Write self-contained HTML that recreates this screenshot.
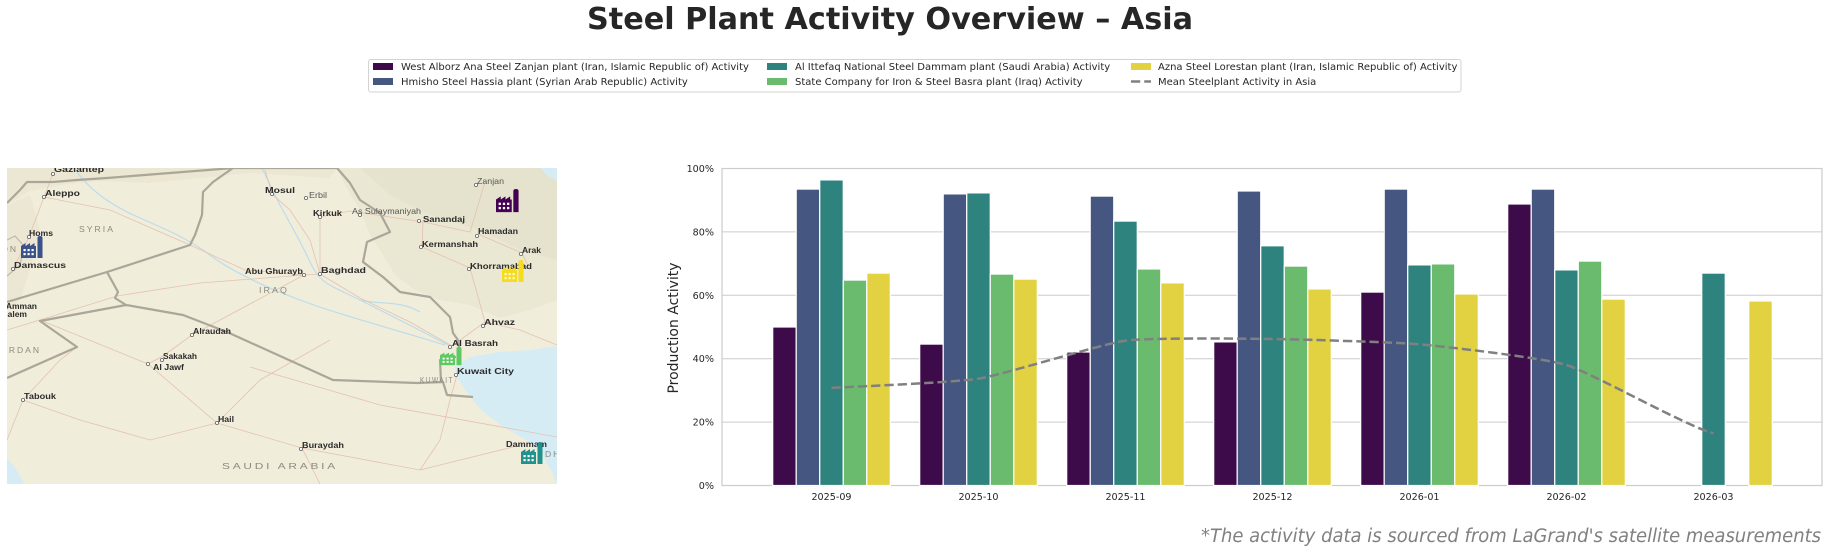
<!DOCTYPE html>
<html><head><meta charset="utf-8"><style>
html,body{margin:0;padding:0;background:#fff;}
svg{display:block;}
.lbl{font-family:"Liberation Sans",Arial,sans-serif;font-weight:bold;font-size:8.5px;fill:#2b2b2b;}
.lbll{font-family:"Liberation Sans",Arial,sans-serif;font-size:8.5px;fill:#555;}
.cty{font-family:"Liberation Sans",Arial,sans-serif;font-size:8.5px;fill:#8c8a80;letter-spacing:2px;}
.dj{font-family:"DejaVu Sans","Liberation Sans",sans-serif;}
</style></head><body>
<svg width="1828" height="554" viewBox="0 0 1828 554" xmlns="http://www.w3.org/2000/svg">
<defs>
<clipPath id="mc"><rect x="7" y="168" width="550" height="316"/></clipPath>
</defs>

<!-- Title -->
<text class="dj" x="587" y="29" font-size="30" font-weight="bold" fill="#262626" textLength="606" lengthAdjust="spacingAndGlyphs">Steel Plant Activity Overview – Asia</text>

<!-- Legend -->
<rect x="368.5" y="59.5" width="1092.5" height="32.5" rx="2.5" fill="#fff" stroke="#d3d3d3" stroke-width="1"/>
<rect x="373" y="63" width="20" height="7" fill="#3e0b4a"/>
<rect x="373" y="78" width="20" height="7" fill="#455681"/>
<rect x="767" y="63" width="20" height="7" fill="#2f837f"/>
<rect x="767" y="78" width="20" height="7" fill="#6bbb6e"/>
<rect x="1131" y="63" width="20" height="7" fill="#e2d140"/>
<line x1="1131" y1="81.5" x2="1151" y2="81.5" stroke="#808080" stroke-width="2.5" stroke-dasharray="9.25 4"/>
<g class="dj" font-size="10" fill="#262626">
<text x="401" y="70">West Alborz Ana Steel Zanjan plant (Iran, Islamic Republic of) Activity</text>
<text x="401" y="85">Hmisho Steel Hassia plant (Syrian Arab Republic) Activity</text>
<text x="795" y="70">Al Ittefaq National Steel Dammam plant (Saudi Arabia) Activity</text>
<text x="795" y="85">State Company for Iron &amp; Steel Basra plant (Iraq) Activity</text>
<text x="1158" y="70">Azna Steel Lorestan plant (Iran, Islamic Republic of) Activity</text>
<text x="1158" y="85">Mean Steelplant Activity in Asia</text>
</g>

<!-- Map -->
<g clip-path="url(#mc)">
<rect x="7" y="168" width="550" height="316" fill="#f1eddb"/>
<!-- terrain shading -->
<polygon points="337,168 557,168 557,300 530,310 500,318 470,305 440,300 415,290 395,275 383,255 370,235 360,210 345,185" fill="#e2dfc6" opacity="0.4"/>
<polygon points="360,168 557,168 557,260 520,250 480,230 430,215 390,195" fill="#dcdcc2" opacity="0.3"/>
<polygon points="7,168 337,168 330,178 250,173 200,178 150,183 100,181 60,185 30,191 7,205" fill="#e4e0c8" opacity="0.45"/>
<polygon points="7,205 30,195 40,230 30,270 20,300 7,310" fill="#e5e1c9" opacity="0.45"/>
<!-- water -->
<polygon points="455,367 470,357 500,352 530,350 557,346 557,484 552,472 542,455 528,441 505,428 482,411 468,394 458,379" fill="#d6ecf5"/>
<polygon points="7,458 14,466 20,476 24,484 7,484" fill="#d6ecf5"/>
<polygon points="540,168 557,168 557,181 548,176" fill="#d6ecf5"/>
<!-- rivers -->
<g fill="none" stroke="#bddcea" stroke-width="1.2">
<path d="M77,172 C90,190 110,205 140,218 S190,240 210,255 S260,285 300,300 S380,325 445,345"/>
<path d="M262,168 C268,180 272,190 280,205 S300,240 310,262 S330,285 360,300 S420,330 448,345"/>
<path d="M360,300 C380,305 400,300 420,312"/>
</g>
<!-- roads -->
<g fill="none" stroke="#e5c1b0" stroke-width="0.8">
<path d="M13,269 L29,237 L44,197 L53,174"/>
<path d="M44,197 L110,210 L190,245 L245,270 L304,275 L320,274"/>
<path d="M304,275 L200,283 L117,296 L40,320 L7,330"/>
<path d="M320,274 L310,240 L290,210 L272,194 L265,170"/>
<path d="M320,274 L360,298 L410,322 L452,346"/>
<path d="M320,217 L320,274"/>
<path d="M320,217 L350,211 L423,222 L470,232 L485,182"/>
<path d="M423,222 L422,247 L470,268 L485,322 L452,346"/>
<path d="M478,234 L522,253 L530,270"/>
<path d="M40,320 L148,364 L163,356 L192,335 L304,275"/>
<path d="M148,364 L217,423 L302,448 L420,470 L521,445"/>
<path d="M23,400 L80,420 L150,440 L217,423"/>
<path d="M217,423 L260,380 L330,340"/>
<path d="M457,375 L450,400 L440,440 L420,470"/>
<path d="M250,367 L380,405 L557,437"/>
<path d="M485,322 L520,330 L557,345"/>
<path d="M7,440 L23,400 L60,360 L77,347"/>
<path d="M302,448 L320,484"/>
</g>
<!-- borders -->
<g fill="none" stroke="#aaa699" stroke-width="2.2" stroke-linejoin="round">
<path d="M7,203 L20,190 L27,182 L53,182 L77,180 L107,178 L170,173 L233,168 L337,168"/>
<path d="M233,168 L213,182 L203,192 L202,215 L195,235 L190,245 L107,272 L7,302"/>
<path d="M107,272 L118,292 L115,298 L126,305 L40,321 L77,347 L7,378"/>
<path d="M126,305 L183,315 L227,332 L333,380 L417,383 L443,382 L447,395 L473,397"/>
<path d="M441,382 L440,360 L456,357"/>
<path d="M337,168 L350,183 L360,200 L380,213 L390,232 L367,242 L363,262 L383,277 L400,292 L430,297 L450,317 L453,333 L458,340 L460,352"/>
</g>
<path d="M7,240 L15,236 L24,246 L20,265 L7,276" fill="none" stroke="#bdb9ad" stroke-width="1.2"/>
<!-- dots -->
<g fill="#fff" stroke="#666" stroke-width="0.8">
<circle cx="53" cy="174" r="1.6"/><circle cx="44" cy="197" r="1.6"/><circle cx="29" cy="237" r="1.6"/>
<circle cx="13" cy="269" r="1.6"/><circle cx="272" cy="194" r="1.6"/><circle cx="306" cy="198" r="1.6"/>
<circle cx="320" cy="217" r="1.6"/><circle cx="360" cy="215" r="1.6"/><circle cx="419" cy="221" r="1.6"/>
<circle cx="304" cy="275" r="1.6"/><circle cx="320" cy="274" r="1.6"/><circle cx="192" cy="335" r="1.6"/>
<circle cx="162" cy="360" r="1.6"/><circle cx="148" cy="364" r="1.6"/><circle cx="23" cy="400" r="1.6"/>
<circle cx="217" cy="423" r="1.6"/><circle cx="421" cy="247" r="1.6"/><circle cx="476" cy="185" r="1.6"/>
<circle cx="477" cy="236" r="1.6"/><circle cx="521" cy="254" r="1.6"/><circle cx="469" cy="269" r="1.6"/>
<circle cx="483" cy="326" r="1.6"/><circle cx="450" cy="347" r="1.6"/><circle cx="456" cy="375" r="1.6"/>
<circle cx="301" cy="449" r="1.6"/>
</g>
<!-- labels -->
<text class="lbl" x="54" y="172" textLength="50" lengthAdjust="spacingAndGlyphs">Gaziantep</text>
<text class="lbl" x="45" y="196" textLength="35" lengthAdjust="spacingAndGlyphs">Aleppo</text>
<text class="cty" x="79" y="232" textLength="36" lengthAdjust="spacingAndGlyphs">SYRIA</text>
<text class="lbl" x="29" y="236" textLength="24" lengthAdjust="spacingAndGlyphs">Homs</text>
<text class="cty" x="18" y="252" text-anchor="end">LEBANON</text>
<text class="lbl" x="14" y="268" textLength="52" lengthAdjust="spacingAndGlyphs">Damascus</text>
<text class="lbl" x="265" y="193" textLength="30" lengthAdjust="spacingAndGlyphs">Mosul</text>
<text class="lbll" x="309" y="198" textLength="18" lengthAdjust="spacingAndGlyphs">Erbil</text>
<text class="lbl" x="313" y="216" textLength="29" lengthAdjust="spacingAndGlyphs">Kirkuk</text>
<text class="lbll" x="352" y="214" fill="#888" textLength="69" lengthAdjust="spacingAndGlyphs">As Sulaymaniyah</text>
<text class="lbl" x="423" y="222" textLength="42" lengthAdjust="spacingAndGlyphs">Sanandaj</text>
<text class="lbll" x="477" y="184" textLength="27" lengthAdjust="spacingAndGlyphs">Zanjan</text>
<text class="lbl" x="478" y="234" textLength="40" lengthAdjust="spacingAndGlyphs">Hamadan</text>
<text class="lbl" x="422" y="247" textLength="56" lengthAdjust="spacingAndGlyphs">Kermanshah</text>
<text class="lbl" x="522" y="253" textLength="19" lengthAdjust="spacingAndGlyphs">Arak</text>
<text class="lbl" x="470" y="269" textLength="62" lengthAdjust="spacingAndGlyphs">Khorramabad</text>
<text class="lbl" x="245" y="274" textLength="58" lengthAdjust="spacingAndGlyphs">Abu Ghurayb</text>
<text class="lbl" x="321" y="273" font-size="9.5" textLength="45" lengthAdjust="spacingAndGlyphs">Baghdad</text>
<text class="cty" x="259" y="293" textLength="30" lengthAdjust="spacingAndGlyphs">IRAQ</text>
<text class="lbl" x="37" y="309" text-anchor="end">Amman</text>
<text class="lbl" x="27" y="317" text-anchor="end">Jerusalem</text>
<text class="cty" x="41" y="353" text-anchor="end">JORDAN</text>
<text class="lbl" x="193" y="334" textLength="38" lengthAdjust="spacingAndGlyphs">Alraudah</text>
<text class="lbl" x="163" y="359" textLength="34" lengthAdjust="spacingAndGlyphs">Sakakah</text>
<text class="lbl" x="153" y="370" textLength="31" lengthAdjust="spacingAndGlyphs">Al Jawf</text>
<text class="lbl" x="24" y="399" textLength="32" lengthAdjust="spacingAndGlyphs">Tabouk</text>
<text class="lbl" x="218" y="422" textLength="16" lengthAdjust="spacingAndGlyphs">Hail</text>
<text class="lbl" x="484" y="325" textLength="31" lengthAdjust="spacingAndGlyphs">Ahvaz</text>
<text class="lbl" x="452" y="346" textLength="46" lengthAdjust="spacingAndGlyphs">Al Basrah</text>
<text class="lbl" x="457" y="374" textLength="57" lengthAdjust="spacingAndGlyphs">Kuwait City</text>
<text class="cty" x="420" y="383" textLength="34" lengthAdjust="spacingAndGlyphs">KUWAIT</text>
<text class="lbl" x="302" y="448" textLength="42" lengthAdjust="spacingAndGlyphs">Buraydah</text>
<text class="cty" x="222" y="469" font-size="9.5" textLength="116" lengthAdjust="spacingAndGlyphs">SAUDI ARABIA</text>
<text class="lbl" x="506" y="447" textLength="41" lengthAdjust="spacingAndGlyphs">Dammam</text>
<text class="cty" x="545" y="457" font-size="7">DHAHRAN</text>
<!-- factory icons -->
<g transform="translate(21,235)" fill="#3b528b">
<path d="M0,23 V11 L4.5,8 V11 L9,8 V11 L13.5,8 V11 H15 V23 Z"/><path d="M16.5,23 V3 Q16.5,1 19,1 Q21.5,1 21.5,3 V23 Z"/>
<g fill="#fff"><rect x="2.5" y="14" width="2.2" height="2.2"/><rect x="6.5" y="14" width="2.2" height="2.2"/><rect x="10.5" y="14" width="2.2" height="2.2"/><rect x="2.5" y="18" width="2.2" height="2.2"/><rect x="6.5" y="18" width="2.2" height="2.2"/><rect x="10.5" y="18" width="2.2" height="2.2"/></g>
</g>
<g transform="translate(496,188) scale(1.05)" fill="#440154">
<path d="M0,23 V11 L4.5,8 V11 L9,8 V11 L13.5,8 V11 H15 V23 Z"/><path d="M16.5,23 V3 Q16.5,1 19,1 Q21.5,1 21.5,3 V23 Z"/>
<g fill="#fff"><rect x="2.5" y="14" width="2.2" height="2.2"/><rect x="6.5" y="14" width="2.2" height="2.2"/><rect x="10.5" y="14" width="2.2" height="2.2"/><rect x="2.5" y="18" width="2.2" height="2.2"/><rect x="6.5" y="18" width="2.2" height="2.2"/><rect x="10.5" y="18" width="2.2" height="2.2"/></g>
</g>
<g transform="translate(502,259)" fill="#f5dc1e">
<path d="M0,23 V11 L4.5,8 V11 L9,8 V11 L13.5,8 V11 H15 V23 Z"/><path d="M16.5,23 V3 Q16.5,1 19,1 Q21.5,1 21.5,3 V23 Z"/>
<g fill="#fff" opacity="0.8"><rect x="2.5" y="14" width="2.2" height="2.2"/><rect x="6.5" y="14" width="2.2" height="2.2"/><rect x="10.5" y="14" width="2.2" height="2.2"/><rect x="2.5" y="18" width="2.2" height="2.2"/><rect x="6.5" y="18" width="2.2" height="2.2"/><rect x="10.5" y="18" width="2.2" height="2.2"/></g>
</g>
<g transform="translate(440,346) scale(1,0.83)" fill="#5ec962">
<path d="M0,23 V11 L4.5,8 V11 L9,8 V11 L13.5,8 V11 H15 V23 Z"/><path d="M16.5,23 V3 Q16.5,1 19,1 Q21.5,1 21.5,3 V23 Z"/>
<g fill="#fff"><rect x="2.5" y="14" width="2.2" height="2.2"/><rect x="6.5" y="14" width="2.2" height="2.2"/><rect x="10.5" y="14" width="2.2" height="2.2"/><rect x="2.5" y="18" width="2.2" height="2.2"/><rect x="6.5" y="18" width="2.2" height="2.2"/><rect x="10.5" y="18" width="2.2" height="2.2"/></g>
</g>
<g transform="translate(521,441)" fill="#21918c">
<path d="M0,23 V11 L4.5,8 V11 L9,8 V11 L13.5,8 V11 H15 V23 Z"/><path d="M16.5,23 V3 Q16.5,1 19,1 Q21.5,1 21.5,3 V23 Z"/>
<g fill="#fff"><rect x="2.5" y="14" width="2.2" height="2.2"/><rect x="6.5" y="14" width="2.2" height="2.2"/><rect x="10.5" y="14" width="2.2" height="2.2"/><rect x="2.5" y="18" width="2.2" height="2.2"/><rect x="6.5" y="18" width="2.2" height="2.2"/><rect x="10.5" y="18" width="2.2" height="2.2"/></g>
</g>
</g>

<!-- Chart grid -->
<g stroke="#cccccc" stroke-width="1">
<line x1="722" y1="422.1" x2="1822" y2="422.1"/>
<line x1="722" y1="358.7" x2="1822" y2="358.7"/>
<line x1="722" y1="295.3" x2="1822" y2="295.3"/>
<line x1="722" y1="231.9" x2="1822" y2="231.9"/>
</g>
<rect x="722" y="168.5" width="1100" height="317" fill="none" stroke="#cccccc" stroke-width="1.2"/>

<!-- Bars -->
<g stroke="#fff" stroke-width="1.2">
<g fill="#3e0b4a">
<rect x="772.7" y="327.0" width="23.52" height="158.5"/>
<rect x="919.7" y="344.1" width="23.52" height="141.4"/>
<rect x="1066.7" y="352.0" width="23.52" height="133.5"/>
<rect x="1213.7" y="341.9" width="23.52" height="143.6"/>
<rect x="1360.7" y="292.1" width="23.52" height="193.4"/>
<rect x="1507.7" y="204.0" width="23.52" height="281.5"/>
</g>
<g fill="#455681">
<rect x="796.22" y="189.1" width="23.52" height="296.4"/>
<rect x="943.22" y="193.9" width="23.52" height="291.6"/>
<rect x="1090.22" y="196.1" width="23.52" height="289.4"/>
<rect x="1237.22" y="191.0" width="23.52" height="294.5"/>
<rect x="1384.22" y="189.1" width="23.52" height="296.4"/>
<rect x="1531.22" y="189.1" width="23.52" height="296.4"/>
</g>
<g fill="#2f837f">
<rect x="819.74" y="179.9" width="23.52" height="305.6"/>
<rect x="966.74" y="192.9" width="23.52" height="292.6"/>
<rect x="1113.74" y="221.1" width="23.52" height="264.4"/>
<rect x="1260.74" y="245.8" width="23.52" height="239.7"/>
<rect x="1407.74" y="264.9" width="23.52" height="220.6"/>
<rect x="1554.74" y="269.9" width="23.52" height="215.6"/>
<rect x="1701.74" y="273.1" width="23.52" height="212.4"/>
</g>
<g fill="#6bbb6e">
<rect x="843.26" y="280.1" width="23.52" height="205.4"/>
<rect x="990.26" y="274.1" width="23.52" height="211.4"/>
<rect x="1137.26" y="269.0" width="23.52" height="216.5"/>
<rect x="1284.26" y="266.1" width="23.52" height="219.4"/>
<rect x="1431.26" y="263.9" width="23.52" height="221.6"/>
<rect x="1578.26" y="261.1" width="23.52" height="224.4"/>
</g>
<g fill="#e2d140">
<rect x="866.78" y="273.1" width="23.52" height="212.4"/>
<rect x="1013.78" y="279.1" width="23.52" height="206.4"/>
<rect x="1160.78" y="282.9" width="23.52" height="202.6"/>
<rect x="1307.78" y="289.0" width="23.52" height="196.5"/>
<rect x="1454.78" y="294.0" width="23.52" height="191.5"/>
<rect x="1601.78" y="299.1" width="23.52" height="186.4"/>
<rect x="1748.78" y="301.0" width="23.52" height="184.5"/>
</g>
</g>

<!-- Mean line -->
<path d="M831.5,387.9 C843.75,387.1 954,382.6 978.5,378.7 C1003,374.8 1101,344.0 1125.5,340.7 C1150,337.4 1248,338.7 1272.5,339.0 C1297,339.3 1395,342.1 1419.5,344.3 C1444,346.5 1542,357.6 1566.5,365.0 C1591,372.4 1689,427.6 1713.5,433.3" fill="none" stroke="#808080" stroke-width="2.5" stroke-dasharray="9.25 4"/>

<!-- Y ticks -->
<g class="dj" font-size="9.6" fill="#262626" text-anchor="end">
<text x="714" y="489">0%</text>
<text x="714" y="425.6">20%</text>
<text x="714" y="362.2">40%</text>
<text x="714" y="298.8">60%</text>
<text x="714" y="235.4">80%</text>
<text x="714" y="172">100%</text>
</g>
<text class="dj" transform="translate(678,328) rotate(-90)" font-size="14" fill="#262626" text-anchor="middle" textLength="131" lengthAdjust="spacingAndGlyphs">Production Activity</text>

<!-- X ticks -->
<g class="dj" font-size="9.6" fill="#262626" text-anchor="middle">
<text x="831.5" y="500">2025-09</text>
<text x="978.5" y="500">2025-10</text>
<text x="1125.5" y="500">2025-11</text>
<text x="1272.5" y="500">2025-12</text>
<text x="1419.5" y="500">2026-01</text>
<text x="1566.5" y="500">2026-02</text>
<text x="1713.5" y="500">2026-03</text>
</g>

<!-- Footer -->
<text class="dj" x="1821" y="542" font-size="18.5" font-style="italic" fill="#808080" text-anchor="end" textLength="620" lengthAdjust="spacingAndGlyphs">*The activity data is sourced from LaGrand's satellite measurements</text>
</svg>
</body></html>
